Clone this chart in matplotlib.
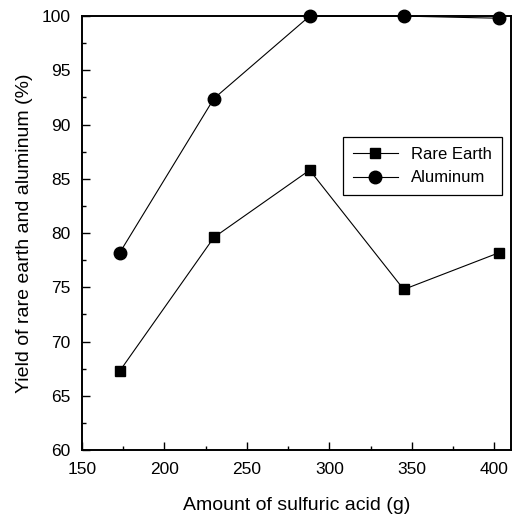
import numpy as np
import matplotlib
matplotlib.use('Agg')
import matplotlib.pyplot as plt
from matplotlib.ticker import MultipleLocator

plt.rcParams['font.family'] = ['Liberation Sans', 'DejaVu Sans']

# 数据
acid = [173, 230, 288, 345, 403]
rare_earth = [67.3, 79.6, 85.8, 74.8, 78.2]
aluminum = [78.2, 92.4, 100.0, 100.0, 99.8]

fig = plt.figure(figsize=(5.12, 5.19), dpi=100)
ax = fig.add_axes([0.160, 0.133, 0.838, 0.836])

ax.plot(acid, rare_earth, c='k', lw=0.8, marker='s', ms=7, label='Rare Earth', clip_on=False)
ax.plot(acid, aluminum, c='k', lw=0.8, marker='o', ms=9, label='Aluminum', clip_on=False)

ax.set_xlim(150, 410)
ax.set_ylim(60, 100)
ax.xaxis.set_major_locator(MultipleLocator(50))
ax.xaxis.set_minor_locator(MultipleLocator(25))
ax.yaxis.set_major_locator(MultipleLocator(5))
ax.yaxis.set_minor_locator(MultipleLocator(2.5))
ax.tick_params(which='both', direction='in', top=False, right=False, labelsize=12.5)
ax.tick_params(which='major', length=6, width=1)
ax.tick_params(which='minor', length=3, width=1)
ax.tick_params(axis='x', pad=9)
ax.tick_params(axis='y', pad=8)
for s in ax.spines.values():
    s.set_linewidth(1.4)

ax.set_xlabel('Amount of sulfuric acid (g)', fontsize=14, labelpad=14)
ax.set_ylabel('Yield of rare earth and aluminum (%)', fontsize=14, labelpad=6)

leg = ax.legend(loc='upper right', bbox_to_anchor=(0.979, 0.721), fontsize=12,
                fancybox=False, edgecolor='k', framealpha=1, handlelength=2.7,
                borderpad=0.6, labelspacing=0.5, borderaxespad=0)
leg.get_frame().set_linewidth(0.9)

plt.savefig('out.png', dpi=100)
